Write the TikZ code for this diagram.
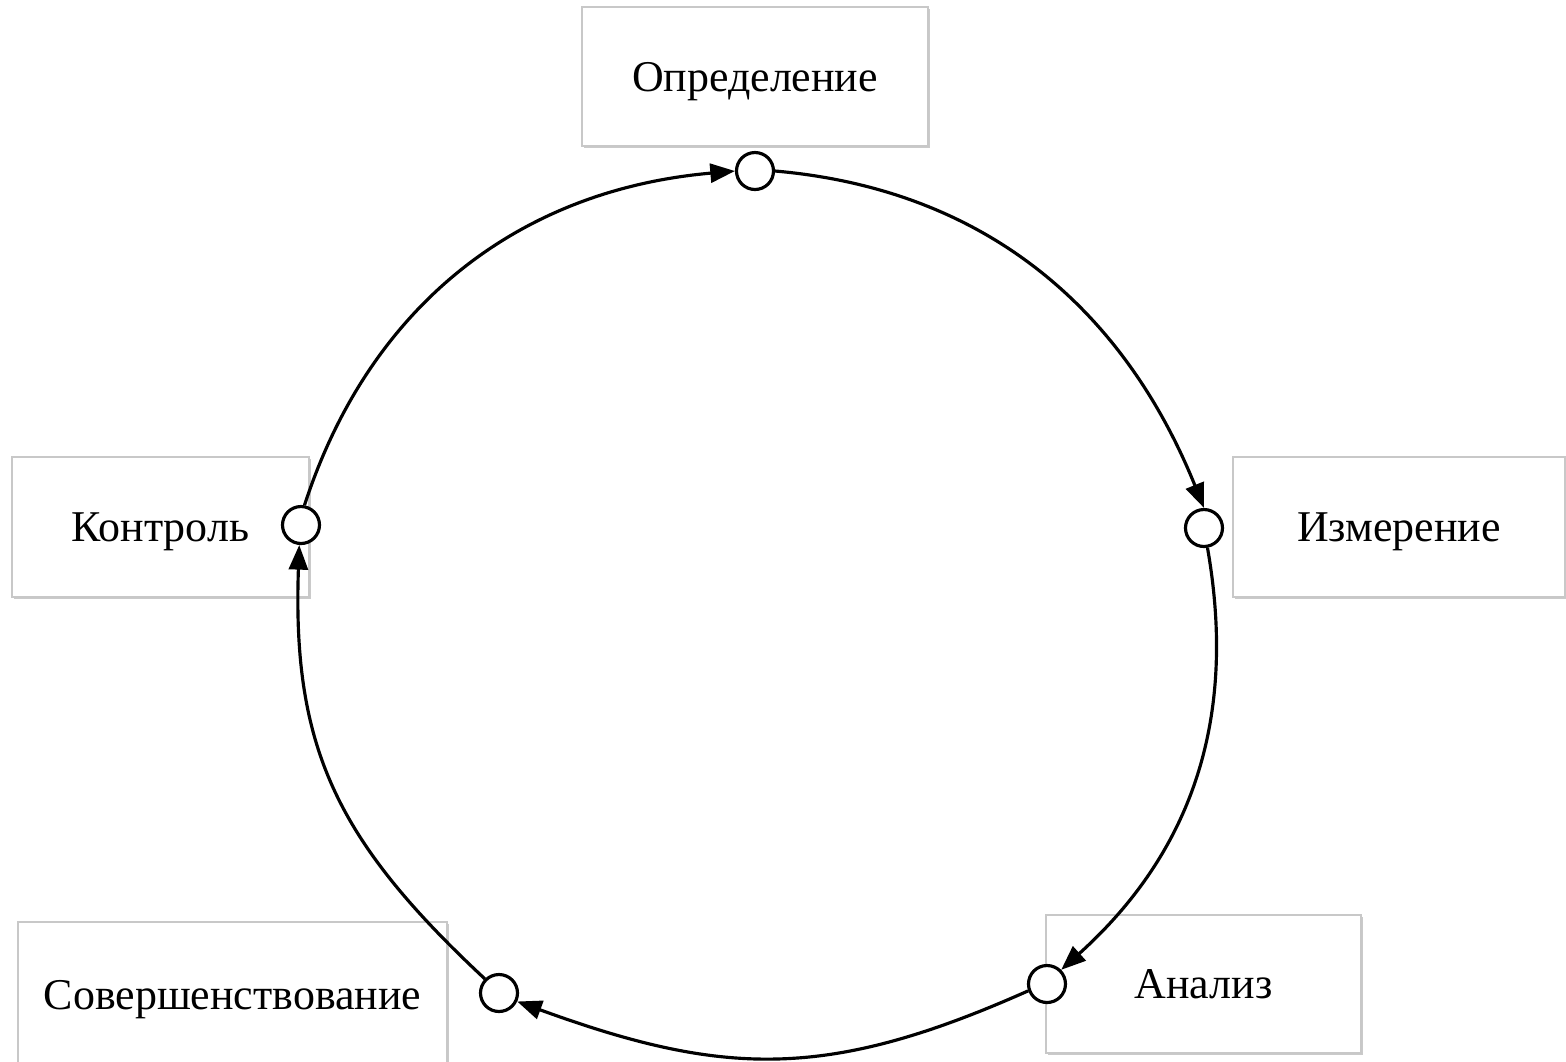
\documentclass[tikz,border=0pt]{standalone}
\usepackage{fontspec}
\setmainfont{Liberation Serif}
\usetikzlibrary{arrows.meta, shadows}
\definecolor{Frame}  {HTML}{C8C8C8}
\definecolor{Ink}    {HTML}{000000}
\tikzset{
  stagebox/.style={
    rectangle, draw=Frame, fill=white, line width=0.6pt,
    drop shadow={shadow xshift=0.6pt, shadow yshift=-0.6pt, fill=black!35, opacity=0.6},
    font=\fontsize{12.5}{15}\selectfont, text=Ink, align=center,
    inner sep=0pt, text depth=0pt,
  },
  port/.style={
    circle, draw=Ink, fill=white, line width=0.9pt,
    minimum size=0.37cm, inner sep=0pt,
  },
  flow/.style={
    -{Triangle[length=7pt,width=5.4pt]},
    line width=0.9pt, color=Ink,
  },
}
\begin{document}
\begin{tikzpicture}[x=1cm,y=1cm]
    \clip (0,0) rectangle (15.66,-10.61);
    % stage boxes
    \node[stagebox, minimum width=3.46cm, minimum height=1.39cm] (def) at (7.55,-0.765) {Определение};
    \node[stagebox, minimum width=3.32cm, minimum height=1.40cm] (meas) at (13.99,-5.27) {Измерение};
    \node[stagebox, minimum width=3.15cm, minimum height=1.38cm] (ana) at (12.035,-9.84) {Анализ};
    \node[stagebox, minimum width=4.29cm, minimum height=1.46cm] (imp) at (2.325,-9.95) {Совершенствование};
    \node[stagebox, minimum width=2.97cm, minimum height=1.40cm] (ctl) at (1.605,-5.27) {Контроль};
    % connection points
    \node[port] (pdef)  at (7.55,-1.71) {};
    \node[port] (pmeas) at (12.04,-5.28) {};
    \node[port] (pana)  at (10.47,-9.84) {};
    \node[port] (pimp)  at (4.99,-9.93) {};
    \node[port] (pctl)  at (3.01,-5.25) {};
    % cycle
    \draw[flow] (pdef.east) to[out=-5, in=112] (pmeas.north);
    \draw[flow] (pmeas.-80) to[out=-80, in=42, looseness=1.0] (pana.45);
    \draw[flow] (pana.200) to[out=204, in=-20, looseness=1.1] (pimp.-25);
    \draw[flow] (pimp.135) to[out=137, in=-92, looseness=1.1] (pctl.-95);
    \draw[flow] (pctl.80) to[out=72, in=185] (pdef.west);
  \end{tikzpicture}
\end{document}
